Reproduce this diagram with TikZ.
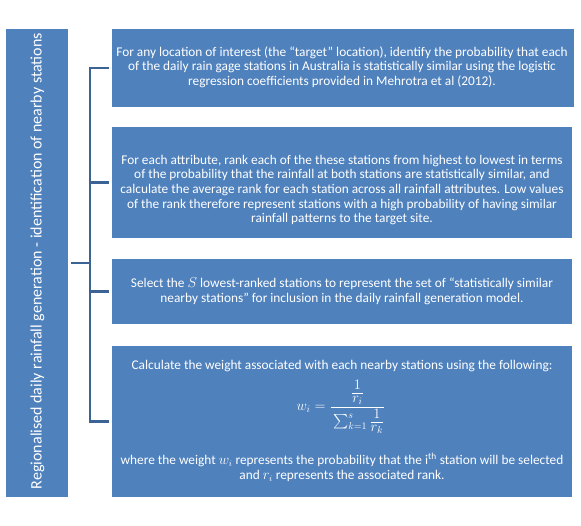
\documentclass[tikz,border=0pt]{standalone}
\usepackage{amsmath}
\usepackage{fontspec}
\setmainfont{Carlito}
\definecolor{boxblue}{HTML}{4F81BD}
\definecolor{linkblue}{HTML}{3B6395}
\newcommand{\tightfrac}[2]{\genfrac{}{}{}{1}{\textstyle #1\rule[-3pt]{0pt}{3pt}}{\textstyle\rule{0pt}{8.5pt}#2}}
\tikzset{
  panel/.style={fill=boxblue, draw=none, inner sep=0pt},
  paneltext/.style={text=white, align=center, font=\fontsize{13.33}{14.6}\selectfont, inner sep=0pt},
  link/.style={draw=linkblue, line width=2.8pt},
}
\begin{document}
\begin{tikzpicture}[x=1pt,y=-1pt]
\useasboundingbox (0,0) rectangle (581,525);
% left title panel
\node[panel, minimum width=62pt, minimum height=468pt] (L) at (37,263) {};
\node[text=white, rotate=90, font=\fontsize{16}{18}\selectfont, inner sep=0pt] (Lt) at (37.5,261) {Regionalised daily rainfall generation - identification of nearby stations};
% step panels
\node[panel, minimum width=462pt, minimum height=78pt] (B1) at (343,68) {};
\node[panel, minimum width=460pt, minimum height=111pt] (B2) at (342,182.5) {};
\node[panel, minimum width=460pt, minimum height=65pt] (B3) at (342,291.5) {};
\node[panel, minimum width=460pt, minimum height=151pt] (B4) at (342,421.5) {};
% texts
\node[paneltext] (T1) at (342,67) {For any location of interest (the ``target'' location), identify the probability that each\\of the daily rain gage stations in Australia is statistically similar using the logistic\\regression coefficients provided in Mehrotra et al (2012).};
\node[paneltext] (T2) at (342,190) {For each attribute, rank each of the these stations from highest to lowest in terms\\of the probability that the rainfall at both stations are statistically similar, and\\calculate the average rank for each station across all rainfall attributes. Low values\\of the rank therefore represent stations with a high probability of having similar\\rainfall patterns to the target site.};
\node[paneltext] (T3) at (342,291) {Select the $S$ lowest-ranked stations to represent the set of ``statistically similar\\nearby stations'' for inclusion in the daily rainfall generation model.};
\node[paneltext] (T4a) at (342,366) {Calculate the weight associated with each nearby stations using the following:};
\node[text=white, inner sep=0pt, font=\fontsize{14}{16}\selectfont] (F) at (341,407) {$\displaystyle w_i=\frac{\tightfrac{1}{r_i}}{\textstyle\rule{0pt}{11pt}\sum_{k=1}^{s}\tightfrac{1}{r_k}}$};
\node[paneltext] (T4b) at (342,467) {where the weight $w_i$ represents the probability that the i\textsuperscript{th} station will be selected\\and $r_i$ represents the associated rank.};
% bracket connectors
\coordinate (sp) at (90,0);
\draw[link] ([xshift=3pt]L.east) -- (L.east -| sp);
\draw[link] ([xshift=-3pt]B1.west) -- (B1.west -| sp) -- (B4.west -| sp) -- ([xshift=-3pt]B4.west);
\draw[link] ([xshift=-3pt]B2.west) -- (B2.west -| sp);
\draw[link] ([xshift=-3pt]B3.west) -- (B3.west -| sp);
\end{tikzpicture}
\end{document}
